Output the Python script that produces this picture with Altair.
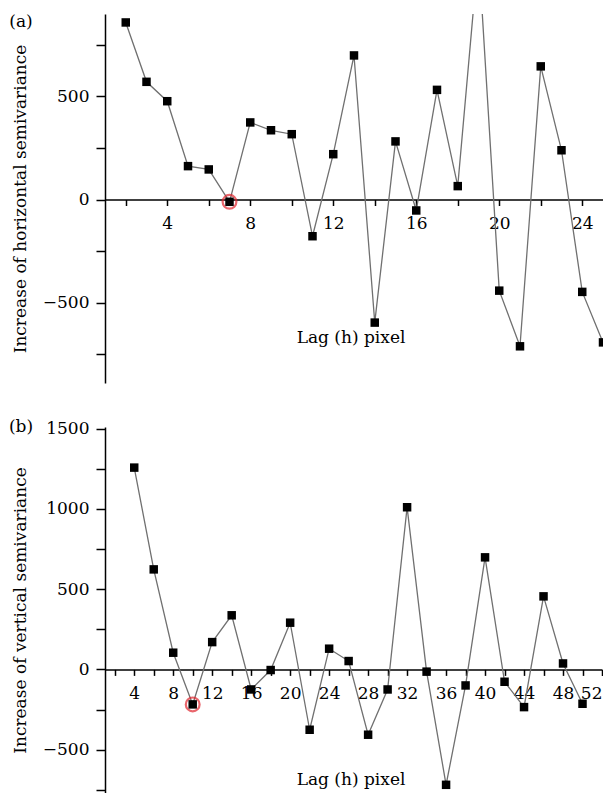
import altair as alt
import pandas as pd

# ---- data ----
lag_h = list(range(2, 26))
inc_h = [859, 571, 477, 162, 146, -11, 374, 336, 317, -178, 220, 699,
         -597, 282, -53, 532, 65, 1200, -442, -712, 646, 239, -448, -693]
lag_v = list(range(4, 51, 2))
inc_v = [1257, 623, 104, -218, 170, 337, -125, -4, 291, -376, 129, 52,
         -407, -125, 1010, -14, -719, -100, 698, -77, -235, 455, 37, -214]
marked_h = 7
marked_v = 10

xticks_h = list(range(2, 25, 2))
xticks_v = list(range(2, 53, 2))
yticks_h = [-750, -500, -250, 0, 250, 500, 750]
yticks_v = [-750, -500, -250, 0, 250, 500, 750, 1000, 1250, 1500]

FONT = "DejaVu Serif"
FS = 17


def panel(lags, vals, marked, xdom, ydom, xticks, yticks, ytitle, letter,
          w, h, letter_y, lab_x, lab_y):
    df = pd.DataFrame({"lag": lags, "val": vals})
    offset = -h * (0 - ydom[0]) / (ydom[1] - ydom[0])
    x = alt.X("lag:Q",
              scale=alt.Scale(domain=xdom, nice=False, zero=False),
              axis=alt.Axis(orient="bottom", offset=offset, values=xticks,
                            labelExpr="datum.value % 4 == 0 ? datum.label : ''",
                            title=None, grid=False, tickSize=6, tickWidth=1.5,
                            domainWidth=1.5, labelPadding=10,
                            domainColor="black", tickColor="black"))
    y = alt.Y("val:Q",
              scale=alt.Scale(domain=ydom, nice=False, zero=False),
              axis=alt.Axis(values=yticks, format="d",
                            labelExpr="datum.value % 500 == 0 ? datum.label : ''",
                            title=ytitle, grid=False, tickSize=9, tickWidth=1.5,
                            domainWidth=1.5, labelPadding=7, titlePadding=13,
                            domainColor="black", tickColor="black"))
    base = alt.Chart(df).encode(x=x, y=y)
    line = base.mark_line(color="#707070", strokeWidth=1.3, clip=True)
    ring = base.transform_filter(alt.datum.lag == marked).mark_point(
        shape="circle", filled=False, color="#e0262e", size=190,
        strokeWidth=2.2, clip=True)
    pts = base.mark_square(color="black", size=72, opacity=1, clip=True)
    tdf = pd.DataFrame({"t": [letter]})
    let = alt.Chart(tdf).mark_text(font=FONT, fontSize=FS, align="center",
                                   baseline="middle", color="black").encode(
        text="t:N", x=alt.value(-84), y=alt.value(letter_y))
    ldf = pd.DataFrame({"t": ["Lag (h) pixel"]})
    lab = alt.Chart(ldf).mark_text(font=FONT, fontSize=FS, align="center",
                                   baseline="middle", color="black").encode(
        text="t:N", x=alt.value(lab_x), y=alt.value(lab_y))
    return alt.layer(line, ring, pts, let, lab).properties(width=w, height=h)


pa = panel(lag_h, inc_h, marked_h, [1, 25], [-890, 900], xticks_h, yticks_h,
           "Increase of horizontal semivariance", "(a)", 498, 369, 8, 246, 324)
pb = panel(lag_v, inc_v, marked_v, [1, 52], [-770, 1510], xticks_v, yticks_v,
           "Increase of vertical semivariance", "(b)", 497, 366, 0, 246, 353)

chart = alt.vconcat(pa, pb, spacing=44, bounds="flush").properties(
    padding={"left": 0, "top": 5, "right": 0, "bottom": 0}
).configure_view(stroke=None).configure_axis(
    labelFont=FONT, labelFontSize=FS, titleFont=FONT, titleFontSize=FS,
    titleFontWeight="normal", labelColor="black", titleColor="black"
)

chart.save("out.html", embed_options={"renderer": "svg", "actions": False})
